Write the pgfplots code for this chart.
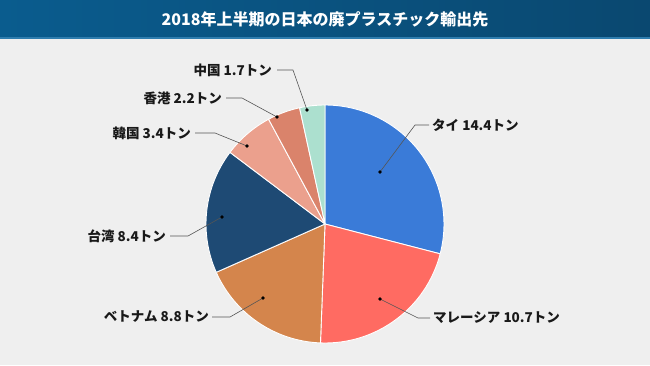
\documentclass[border=0pt]{standalone}
\usepackage{pgfplots}
\usepackage{pgfplotstable}
\pgfplotsset{compat=1.18}
\usepackage{fontspec}
\setmainfont{Noto Sans CJK JP}
\definecolor{bgc}{HTML}{EFEFEF}
\definecolor{barL}{HTML}{0A5C8E}
\definecolor{barR}{HTML}{0A4870}
\definecolor{barLine}{HTML}{2F7DAE}
\definecolor{cA}{HTML}{3A7BD8}
\definecolor{cB}{HTML}{FF6B62}
\definecolor{cC}{HTML}{D4854C}
\definecolor{cD}{HTML}{1E4A74}
\definecolor{cE}{HTML}{EBA08D}
\definecolor{cF}{HTML}{DA836B}
\definecolor{cG}{HTML}{ACE0CF}
\definecolor{lead}{HTML}{555555}

\pgfplotstableread[col sep=comma]{
label,value,color,dotx,doty,elbx,elby,endx,labx,anch
タイ 14.4トン,14.4,cA,380,172,415,125,429,432,west
マレーシア 10.7トン,10.7,cB,380,299,418,318,430,433,west
ベトナム 8.8トン,8.8,cC,263,298,230,317,212,209,east
台湾 8.4トン,8.4,cD,222,217,188,236,170,166,east
韓国 3.4トン,3.4,cE,247,146,215,133,195,191,east
香港 2.2トン,2.2,cF,277,117,242,98,226,222,east
中国 1.7トン,1.7,cG,307,110,293,70,277,272,east
}\piedata

\begin{document}
\begin{tikzpicture}
\begin{axis}[
  width=650bp, height=365bp, scale only axis,
  xmin=0, xmax=650, ymin=0, ymax=365, y dir=reverse,
  hide axis, clip=false,
]
\fill[bgc] (axis cs:0,0) rectangle (axis cs:650,365);
\shade[left color=barL, right color=barR] (axis cs:0,0) rectangle (axis cs:650,38);
\fill[barLine] (axis cs:0,37.2) rectangle (axis cs:650,39);
\node[text=white, font=\bfseries\fontsize{16bp}{20bp}\selectfont] at (axis cs:325,19.5) {2018年上半期の日本の廃プラスチック輸出先};
% total
\def\pietotal{0}
\pgfplotsforeachungrouped \i in {0,...,6}{%
  \pgfplotstablegetelem{\i}{value}\of\piedata
  \pgfmathsetmacro\pietotal{\pietotal+\pgfplotsretval}%
}
\def\cumang{90}
\pgfplotsforeachungrouped \i in {0,...,6}{%
  \pgfplotstablegetelem{\i}{value}\of\piedata \let\sval\pgfplotsretval
  \pgfplotstablegetelem{\i}{color}\of\piedata \let\slicecol\pgfplotsretval
  \pgfmathsetmacro\sliceang{\sval/\pietotal*360}%
  \pgfmathsetmacro\endang{\cumang-\sliceang}%
  \edef\tmp{\noexpand\fill[\slicecol, draw=white, line width=0.9pt, line join=round] (axis cs:325,224) -- ++(\cumang:119bp) arc[start angle=\cumang, end angle=\endang, radius=119bp] -- cycle;}%
  \tmp
  \let\cumang\endang
}
\pgfplotsforeachungrouped \i in {0,...,6}{%
  \pgfplotstablegetelem{\i}{label}\of\piedata \let\lab\pgfplotsretval
  \pgfplotstablegetelem{\i}{dotx}\of\piedata \let\dx\pgfplotsretval
  \pgfplotstablegetelem{\i}{doty}\of\piedata \let\dy\pgfplotsretval
  \pgfplotstablegetelem{\i}{elbx}\of\piedata \let\ex\pgfplotsretval
  \pgfplotstablegetelem{\i}{elby}\of\piedata \let\ey\pgfplotsretval
  \pgfplotstablegetelem{\i}{endx}\of\piedata \let\hx\pgfplotsretval
  \pgfplotstablegetelem{\i}{labx}\of\piedata \let\lx\pgfplotsretval
  \pgfplotstablegetelem{\i}{anch}\of\piedata \let\an\pgfplotsretval
  \edef\tmp{%
    \noexpand\draw[lead, line width=0.6pt] (axis cs:\dx,\dy) -- (axis cs:\ex,\ey) -- (axis cs:\hx,\ey);
    \noexpand\fill[black] (axis cs:\dx,\dy) circle[radius=1.9bp];
    \noexpand\node[anchor=\an, inner sep=0pt, text=black!90, font=\noexpand\bfseries\noexpand\fontsize{13.5bp}{16bp}\noexpand\selectfont] at (axis cs:\lx,\ey) {\lab};
  }%
  \tmp
}
\end{axis}
\end{tikzpicture}
\end{document}
